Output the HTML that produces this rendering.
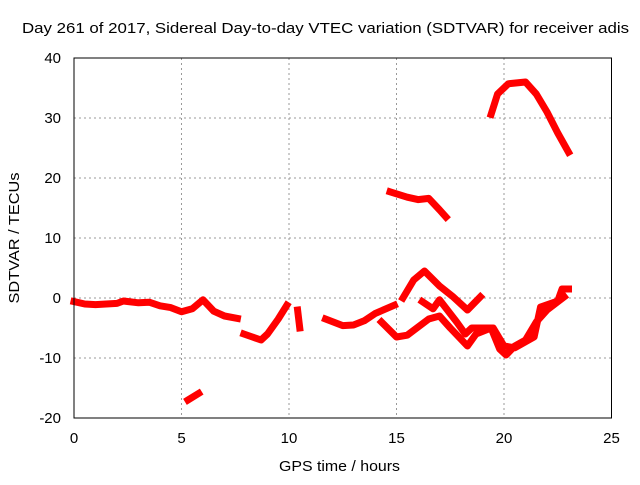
<!DOCTYPE html>
<html><head><meta charset="utf-8"><style>
body{margin:0;background:#fff}
svg text{font-family:"Liberation Sans",sans-serif;font-size:15px;fill:#000}
</style></head><body>
<svg id="chart" width="640" height="480" xmlns="http://www.w3.org/2000/svg">
<text x="22" y="33" textLength="607" lengthAdjust="spacingAndGlyphs">Day 261 of 2017, Sidereal Day-to-day VTEC variation (SDTVAR) for receiver adis</text>
<text x="279" y="471" textLength="121" lengthAdjust="spacingAndGlyphs">GPS time / hours</text>
<text x="0" y="0" text-anchor="middle" textLength="131" lengthAdjust="spacingAndGlyphs" transform="translate(19 238) rotate(-90)">SDTVAR / TECUs</text>
<g id="grid"></g><g id="ticks"></g><g id="series"></g>
<rect x="74" y="58" width="537.5" height="360" fill="none" stroke="#000" stroke-width="1"/>
</svg>
<script>
const xTicks=[0,5,10,15,20,25];
const yTicks=[-20,-10,0,10,20,30,40];
const s1=[[0,-0.6],[0.5,-1],[1,-1.1],[1.5,-1],[2,-0.9],[2.3,-0.5],[3,-0.8],[3.5,-0.7],[4,-1.3],[4.5,-1.6],[5,-2.3],[5.5,-1.8],[6,-0.3],[6.5,-2.2],[7,-3],[7.6,-3.4]];
const s2=[[5.3,-17],[5.8,-15.9]];
const s3=[[7.9,-6],[8.3,-6.5],[8.7,-7],[9,-6],[9.5,-3.5],[9.9,-1.2]];
const s4=[[10.4,-2],[10.45,-3.5],[10.5,-5]];
const s5=[[11.7,-3.5],[12.5,-4.6],[13,-4.5],[13.5,-3.8],[14,-2.6],[14.9,-1.2]];
const s6=[[14.7,17.7],[15.5,16.8],[16,16.4],[16.5,16.6],[17,14.7],[17.3,13.5]];
const s7=[[19.4,30.6],[19.7,34],[20.2,35.7],[21,36],[21.5,34],[22,31],[22.5,27.5],[23,24.3]];
const s8=[[15.3,0],[15.8,3],[16.3,4.5],[17,2],[17.6,0.3],[18.3,-2],[18.9,0.2]];
const s9=[[14.3,-4],[15,-6.5],[15.5,-6.2],[16.5,-3.5],[17,-3],[17.5,-5],[18.3,-8],[18.7,-6],[19.4,-5],[19.8,-8.5],[20.1,-9.5],[20.5,-8],[21,-7],[21.5,-4],[22,-2],[22.8,0.2]];
const s10=[[16.2,-0.6],[16.7,-1.8],[17,-0.3],[17.8,-4],[18.2,-6],[18.5,-5],[19.5,-5],[20,-8],[20.5,-8.3],[21.4,-6.5],[21.7,-1.5],[22.5,-0.5],[22.7,1.5],[23,1.5]];
const allSeries=[s1,s2,s3,s4,s5,s6,s7,s8,s9,s10];
const X=v=>74+v*21.5, Y=v=>298-v*6;
const NS='http://www.w3.org/2000/svg';
const g=document.getElementById('grid'),t=document.getElementById('ticks'),sg=document.getElementById('series');
function mk(tag,attrs,parent){const e=document.createElementNS(NS,tag);for(const k in attrs)e.setAttribute(k,attrs[k]);parent.appendChild(e);return e;}
xTicks.forEach(v=>{
 if(v>0&&v<25){const l=mk('line',{x1:X(v),x2:X(v),y1:58,y2:418,stroke:'#999','stroke-dasharray':'2,3'},g);
 
 }
 const tx=mk('text',{x:X(v),y:443,'text-anchor':'middle'},t);tx.textContent=v;
 
 
});
yTicks.forEach(v=>{
 if(v>-20&&v<40){const l=mk('line',{x1:74,x2:611.5,y1:Y(v),y2:Y(v),stroke:'#999','stroke-dasharray':'2,3'},g);
 
 }
 const tx=mk('text',{x:61,y:Y(v)+5,'text-anchor':'end'},t);tx.textContent=v;
 
 
});
allSeries.forEach((s,i)=>{
 const p=mk('polyline',{points:s.map(d=>X(d[0])+','+Y(d[1])).join(' '),fill:'none',stroke:'#f00','stroke-width':7,'stroke-linejoin':'round','stroke-linecap':'square'},sg);
 
 
});
</script>
</body></html>
